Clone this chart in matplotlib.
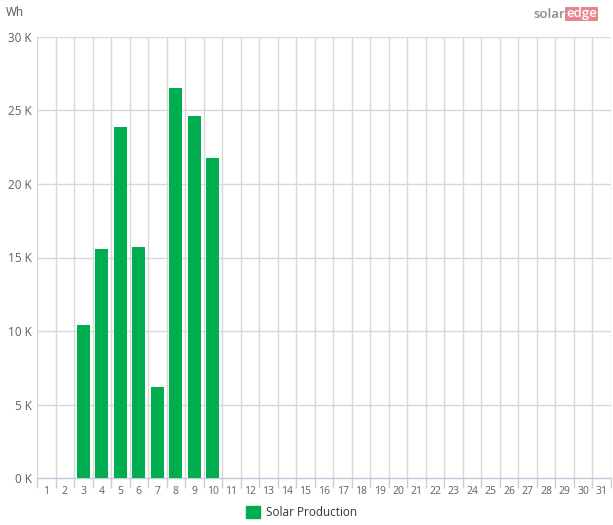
import matplotlib
matplotlib.use("Agg")
import matplotlib.pyplot as plt
from matplotlib.ticker import FixedLocator, FuncFormatter

plt.rcParams["font.family"] = ["Open Sans", "DejaVu Sans"]

# daily production for the month, Wh (days with no data are 0)
days = list(range(1, 32))
production = [0, 0, 10400, 15600, 23900, 15700, 6200, 26500, 24600, 21800] + [0] * 21
y_ticks = [0, 5000, 10000, 15000, 20000, 25000, 30000]

BAR_GREEN = "#00ad4f"
GRID = "#d8d8d8"
AXIS = "#c0d0e0"
LABEL = "#606060"


def main():
    fig = plt.figure(figsize=(6.13, 5.25), dpi=100)
    ax = fig.add_axes([37 / 613, 1 - 478 / 525, 574 / 613, 441 / 525])

    ax.bar(days, production, width=0.7, color=BAR_GREEN, zorder=3)

    ax.set_xlim(0.5, 31.5)
    ax.set_ylim(0, 30000)

    ax.set_xticks(days)
    ax.set_xticklabels([str(d) for d in days])
    ax.xaxis.set_minor_locator(FixedLocator([d + 0.5 for d in range(0, 32)]))
    ax.tick_params(axis="x", which="major", length=0, pad=6, labelsize=7.5, labelcolor=LABEL)
    ax.tick_params(axis="x", which="minor", length=7, color=AXIS, width=1)
    ax.grid(axis="x", which="minor", color=GRID, linewidth=1, zorder=0)

    ax.set_yticks(y_ticks)
    ax.yaxis.set_major_formatter(FuncFormatter(lambda v, _: f"{int(v / 1000)} K"))
    ax.tick_params(axis="y", length=0, pad=4, labelsize=8.5, labelcolor=LABEL)
    ax.grid(axis="y", which="major", color=GRID, linewidth=1, zorder=0)

    for side in ["top", "left", "right"]:
        ax.spines[side].set_visible(False)
    ax.spines["bottom"].set_color(AXIS)
    ax.spines["bottom"].set_linewidth(1)

    fig.text(6 / 613, 1 - 13 / 525, "Wh", fontsize=8.5, color="#555555", va="center")

    # solaredge logo
    fig.text(565 / 613, 1 - 14 / 525, "solar", fontsize=9.5, color="#8a8a8a",
             ha="right", va="center", fontweight="semibold")
    fig.text(566 / 613, 1 - 14 / 525, "edge", fontsize=9.5, color="white",
             ha="left", va="center", fontweight="semibold",
             bbox=dict(boxstyle="square,pad=0.05", fc="#e8848c", ec="none"))

    # legend
    fig.patches.append(plt.Rectangle((246 / 613, 1 - 518 / 525), 14 / 613, 12 / 525,
                                     transform=fig.transFigure, color=BAR_GREEN))
    fig.text(266 / 613, 1 - 512 / 525, "Solar Production", fontsize=8.5,
             color="#333344", va="center")

    fig.savefig("out.png", dpi=100)


if __name__ == "__main__":
    main()
